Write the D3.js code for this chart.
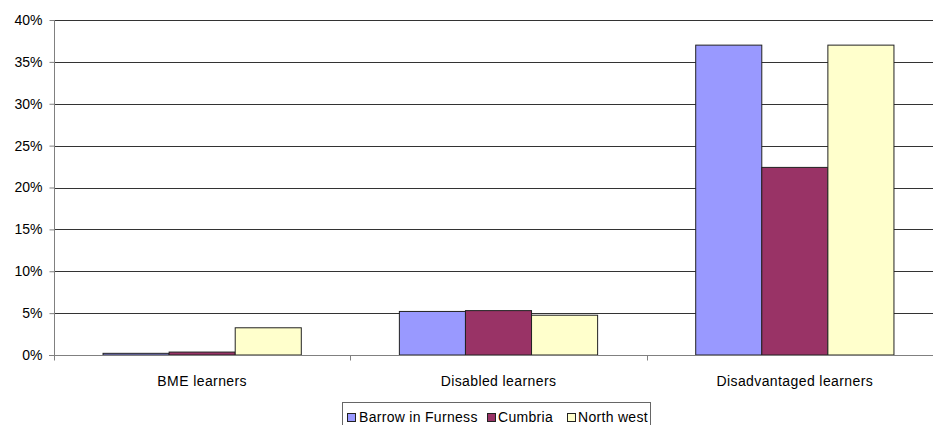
<!DOCTYPE html>
<html><head><meta charset="utf-8">
<script src="https://cdn.jsdelivr.net/npm/d3@7"></script>
<style>body{margin:0;background:#fff;} svg{display:block;font-family:"Liberation Sans",Arial,sans-serif;}</style>
</head><body>
<script>
const categories = ["BME learners", "Disabled learners", "Disadvantaged learners"];
const seriesNames = ["Barrow in Furness", "Cumbria", "North west"];
const barrow = [0.2, 5.2, 37.0];
const cumbria = [0.35, 5.3, 22.4];
const northWest = [3.25, 4.75, 37.0];
const yTicks = [0, 5, 10, 15, 20, 25, 30, 35, 40];
const colors = ["#9999FF", "#993366", "#FFFFCC"];

const series = [barrow, cumbria, northWest];
const W = 933, H = 425;
const m = {left: 54, top: 20, right: 943, bottom: 355};
const svg = d3.select("body").append("svg").attr("width", W).attr("height", H);

const x0 = d3.scaleBand().domain(categories).range([m.left, m.right]).paddingInner(0).paddingOuter(0);
const y = d3.scaleLinear().domain([0, 40]).range([m.bottom, m.top]);
const groupPad = 0.331;
const x1 = d3.scaleBand().domain(d3.range(seriesNames.length))
  .range([x0.bandwidth()*groupPad/2, x0.bandwidth()*(1-groupPad/2)]);

// gridlines
svg.append("g").selectAll("line").data(yTicks.filter(d => d > 0)).join("line")
  .attr("x1", m.left).attr("x2", m.right)
  .attr("y1", d => Math.round(y(d)) + 0.5).attr("y2", d => Math.round(y(d)) + 0.5)
  .attr("stroke", "#333").attr("stroke-width", 1);

// bars
const g = svg.append("g");
categories.forEach((c, ci) => {
  series.forEach((s, si) => {
    g.append("rect")
      .attr("x", x0(c) + x1(si))
      .attr("y", y(s[ci]))
      .attr("width", x1.bandwidth())
      .attr("height", y(0) - y(s[ci]))
      .attr("fill", colors[si]).attr("stroke", "#222").attr("stroke-width", 1);
  });
});

// y axis
const yAxis = d3.axisLeft(y).tickValues(yTicks).tickFormat(d => d + "%").tickSize(5).tickPadding(7);
const ya = svg.append("g").attr("transform", `translate(${m.left + 0.5},0)`).call(yAxis);
ya.select(".domain").attr("stroke", "#808080").attr("d", `M0,${m.top}V${m.bottom}`);
ya.selectAll(".tick line").attr("stroke", "#808080");
ya.selectAll(".tick text").attr("font-size", 14).attr("fill", "#000")
  .attr("font-family", "Liberation Sans, Arial, sans-serif");

// x axis
const xa = svg.append("g").attr("transform", `translate(0,${m.bottom + 0.5})`);
xa.append("line").attr("x1", m.left - 5).attr("x2", m.right).attr("stroke", "#808080");
const bounds = categories.map(c => x0(c)).concat([x0(categories[categories.length-1]) + x0.bandwidth()]);
xa.selectAll("line.t").data(bounds).join("line").attr("class", "t")
  .attr("x1", d => Math.round(d) + 0.5).attr("x2", d => Math.round(d) + 0.5).attr("y1", 0).attr("y2", 5)
  .attr("stroke", "#808080");
xa.selectAll("text").data(categories).join("text")
  .attr("x", d => x0(d) + x0.bandwidth()/2).attr("y", 30)
  .attr("text-anchor", "middle").attr("font-size", 14).attr("letter-spacing", "0.4px")
  .attr("fill", "#000").text(d => d);

// legend
const lg = svg.append("g");
lg.append("rect").attr("x", 342.5).attr("y", 402.5).attr("width", 308).attr("height", 30)
  .attr("fill", "#fff").attr("stroke", "#666");
const items = [{x: 347, tx: 359}, {x: 487, tx: 498}, {x: 567, tx: 578}];
seriesNames.forEach((n, i) => {
  lg.append("rect").attr("x", items[i].x + 0.5).attr("y", 413.5).attr("width", 8).attr("height", 8)
    .attr("fill", colors[i]).attr("stroke", "#222");
  lg.append("text").attr("x", items[i].tx).attr("y", 422).attr("font-size", 14)
    .attr("letter-spacing", "0.3px").attr("fill", "#000").text(n);
});
</script>
</body></html>
